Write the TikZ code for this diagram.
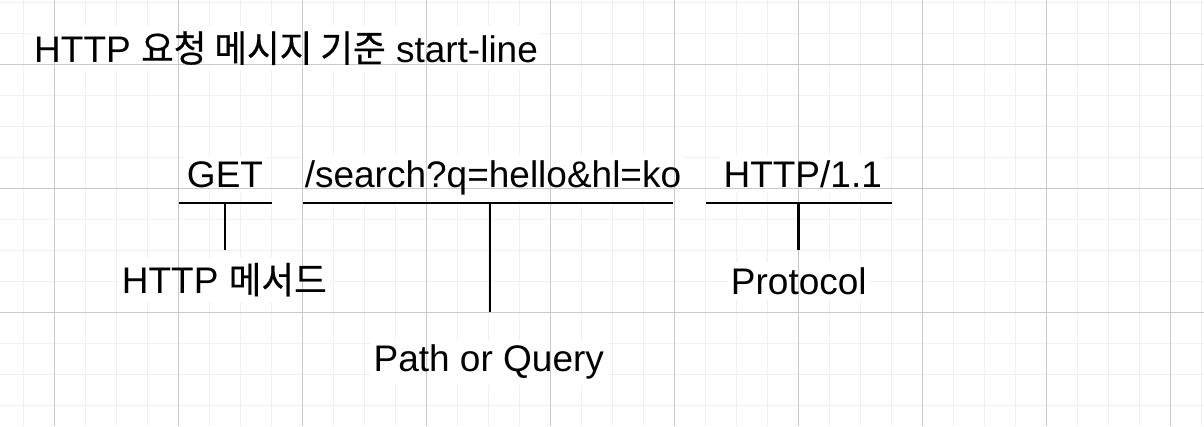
\documentclass[tikz,border=0pt]{standalone}
\usepackage{fontspec}
\setmainfont{Liberation Sans}
\newfontfamily\kr[FakeBold=0.5,FakeStretch=0.96]{Noto Sans CJK KR}
\pgfdeclarelayer{bg}
\pgfdeclarelayer{boxes}
\pgfsetlayers{bg,boxes,main}
\tikzset{
  minorgrid/.style={draw=black!6, line width=1pt},
  majorgrid/.style={draw=black!21, line width=1pt},
  lbl/.style={inner xsep=3pt, inner ysep=5pt, font=\fontsize{37}{40}\selectfont, text=black},
  bar/.style={draw=black, line width=2.6pt},
  tick/.style={draw=black, line width=2.6pt},
}
\newcommand{\whitebox}[1]{\begin{pgfonlayer}{boxes}\fill[white] (#1.south west) rectangle (#1.north east);\end{pgfonlayer}}
\begin{document}
\begin{tikzpicture}[x=1pt,y=-1pt]
\useasboundingbox (0,0) rectangle (1204,426);
% minor grid
\begin{pgfonlayer}{bg}
\fill[white] (0,0) rectangle (1204,426);
\foreach \i in {0,...,38} {\draw[minorgrid] ({23.3+31*\i},0) -- ({23.3+31*\i},426);}
\foreach \j in {0,...,13} {\draw[minorgrid] (0,{2+31*\j}) -- (1204,{2+31*\j});}
\end{pgfonlayer}
% major grid
\foreach \i in {0,...,9} {\draw[majorgrid] ({54.3+124*\i},0) -- ({54.3+124*\i},426);}
\foreach \j in {64,188,312} {\draw[majorgrid] (0,\j) -- (1204,\j);}
% texts
\node[lbl, anchor=base west] (title) at (31,62) {HTTP {\kr 요청 메시지 기준} start-line};
\node[lbl, anchor=base] (get) at (225,187) {GET};
\node[lbl, anchor=base] (path) at (493,187) {/search?q=hello\&hl=ko};
\node[lbl, anchor=base] (ver) at (802.7,187) {HTTP/1.1};
\node[lbl, anchor=base] (method) at (224.3,293.5) {HTTP {\kr 메서드}};
\node[lbl, anchor=base] (proto) at (798.8,294) {Protocol};
\node[lbl, anchor=base] (pq) at (488.8,371.7) {Path or Query};
\whitebox{title}\whitebox{get}\whitebox{path}\whitebox{ver}\whitebox{method}\whitebox{proto}\whitebox{pq}
% underline bars
\coordinate (g1) at (179.3,203); \coordinate (g2) at (271.7,203);
\coordinate (p1) at (302.7,203); \coordinate (p2) at (673,203);
\coordinate (h1) at (706,203);   \coordinate (h2) at (891.7,203);
\draw[bar] (g1) -- (g2);
\draw[bar] (p1) -- (p2);
\draw[bar] (h1) -- (h2);
% ticks
\coordinate (gt) at (225,203);   \coordinate (ge) at (225,250);
\coordinate (pt) at (490,203);   \coordinate (pe) at (490,312);
\coordinate (ht) at (798.7,203); \coordinate (he) at (798.7,250);
\draw[tick] (gt) -- (ge);
\draw[tick] (pt) -- (pe);
\draw[tick] (ht) -- (he);
\end{tikzpicture}
\end{document}
